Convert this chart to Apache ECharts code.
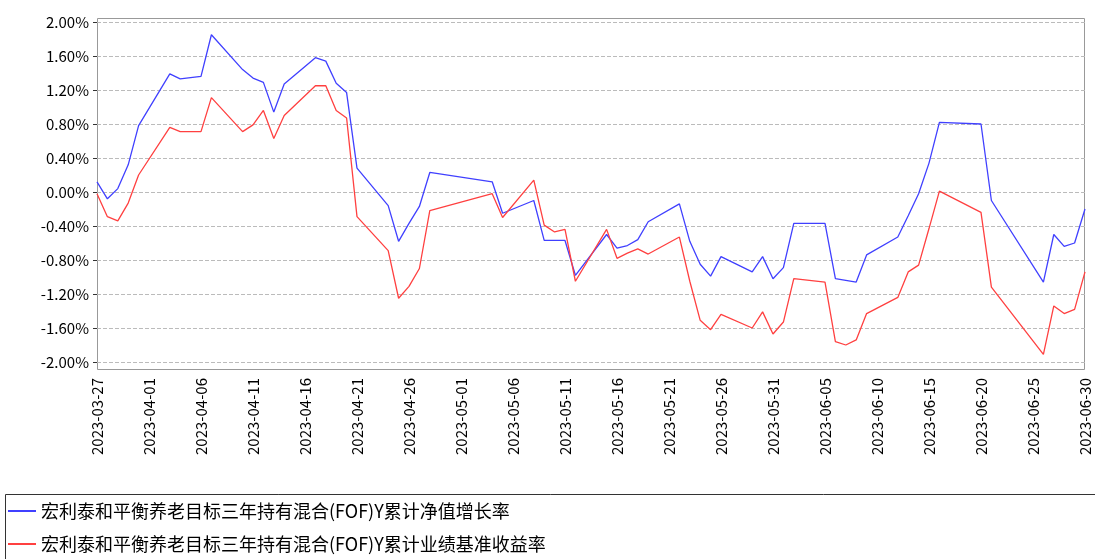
<!DOCTYPE html>
<html><head><meta charset="utf-8">
<script src="https://cdn.jsdelivr.net/npm/echarts@6/dist/echarts.min.js"></script>
<style>html,body{margin:0;padding:0;background:#fff}#c{width:1095px;height:559px}</style>
</head><body><div id="c"></div>
<script>
const dates = ['03-27','03-28','03-29','03-30','03-31','04-03','04-04','04-06','04-07','04-10','04-11','04-12','04-13','04-14','04-17','04-18','04-19','04-20','04-21','04-24','04-25','04-26','04-27','04-28',
 '05-04','05-05','05-08','05-09','05-10','05-11','05-12','05-15','05-16','05-17','05-18','05-19','05-22','05-23','05-24','05-25','05-26','05-29','05-30','05-31',
 '06-01','06-02','06-05','06-06','06-07','06-08','06-09','06-12','06-13','06-14','06-15','06-16','06-20','06-21','06-26','06-27','06-28','06-29','06-30'];
const navGrowth = [0.12,-0.08,0.04,0.32,0.78,1.39,1.33,1.36,1.85,1.44,1.34,1.29,0.94,1.27,1.58,1.54,1.28,1.17,0.28,-0.16,-0.58,-0.37,-0.17,0.23,
 0.12,-0.25,-0.10,-0.57,-0.57,-0.57,-0.98,-0.50,-0.66,-0.63,-0.56,-0.35,-0.14,-0.58,-0.85,-0.99,-0.76,-0.94,-0.76,-1.02,
 -0.89,-0.37,-0.37,-1.02,-1.04,-1.06,-0.74,-0.53,-0.28,-0.02,0.34,0.82,0.80,-0.10,-1.06,-0.50,-0.64,-0.60,-0.20];
const benchmark = [-0.02,-0.29,-0.34,-0.13,0.20,0.76,0.71,0.71,1.11,0.71,0.79,0.96,0.63,0.90,1.25,1.25,0.96,0.87,-0.29,-0.69,-1.25,-1.11,-0.90,-0.22,
 -0.02,-0.30,0.14,-0.39,-0.47,-0.44,-1.05,-0.44,-0.78,-0.72,-0.67,-0.73,-0.53,-1.05,-1.51,-1.62,-1.44,-1.60,-1.41,-1.67,
 -1.53,-1.02,-1.06,-1.76,-1.80,-1.74,-1.43,-1.24,-0.94,-0.86,-0.43,0.01,-0.24,-1.12,-1.91,-1.34,-1.43,-1.38,-0.94];
const names = ['宏利泰和平衡养老目标三年持有混合(FOF)Y累计净值增长率','宏利泰和平衡养老目标三年持有混合(FOF)Y累计业绩基准收益率'];

const DAY = 86400000, t0 = Date.UTC(2023,2,27);
const dayOf = d => (Date.UTC(2023, +d.slice(0,2)-1, +d.slice(3)) - t0) / DAY;
const fmt = v => { const t = new Date(t0 + v*DAY); return t.getUTCFullYear()+'-'+String(t.getUTCMonth()+1).padStart(2,'0')+'-'+String(t.getUTCDate()).padStart(2,'0'); };
const font = 'Noto Sans CJK SC';
const chart = echarts.init(document.getElementById('c'));
chart.setOption({
  animation:false,
  graphic:[
    {type:'rect',shape:{x:97.5,y:18.5,width:987,height:351},style:{fill:'none',stroke:'#999',lineWidth:1},silent:true},
    {type:'rect',shape:{x:5.5,y:494.5,width:1095,height:70},style:{fill:'none',stroke:'#333',lineWidth:1},silent:true}
  ],
  grid:{left:97,right:10,top:22,bottom:197},
  xAxis:{type:'value',min:0,max:95,interval:5,
    axisLine:{show:false},axisTick:{show:false},splitLine:{show:false},
    axisLabel:{rotate:90,formatter:fmt,color:'#000',fontSize:15,fontFamily:font,margin:16}},
  yAxis:{type:'value',min:-2,max:2,interval:0.4,
    axisLine:{show:false},axisTick:{show:true,length:4,lineStyle:{color:'#333'}},
    splitLine:{lineStyle:{color:'#bbb',type:'dashed'}},
    axisLabel:{formatter:v=>v.toFixed(2)+'%',color:'#000',fontSize:15,fontFamily:font}},
  legend:{orient:'vertical',left:8,top:502,padding:0,itemGap:15,itemWidth:28,itemHeight:2,icon:'rect',
    textStyle:{fontSize:18,fontFamily:font,color:'#000'}},
  series:[
    {name:names[0],type:'line',symbol:'none',color:'#4040ff',lineStyle:{width:1.3},
     data:dates.map((d,i)=>[dayOf(d),navGrowth[i]])},
    {name:names[1],type:'line',symbol:'none',color:'#ff4040',lineStyle:{width:1.3},
     data:dates.map((d,i)=>[dayOf(d),benchmark[i]])}
  ]
});
</script></body></html>
